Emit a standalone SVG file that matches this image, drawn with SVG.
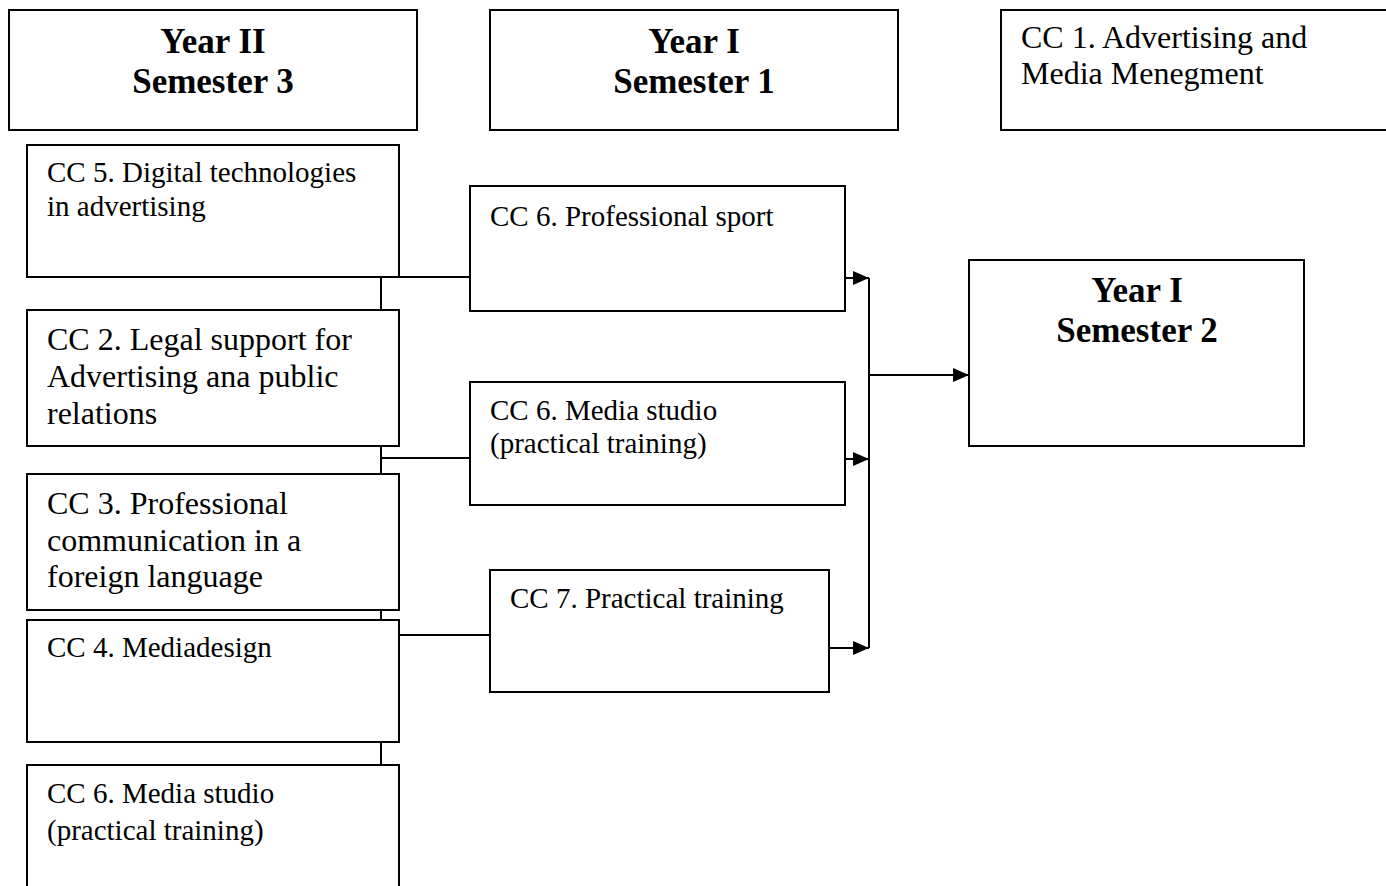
<svg xmlns="http://www.w3.org/2000/svg" width="1386" height="886" viewBox="0 0 1386 886">
<style>
.box{fill:#fff;stroke:#000;stroke-width:2}
.t{font-family:"Liberation Serif",serif;font-size:29px;fill:#000}
.tl{font-family:"Liberation Serif",serif;font-size:32px;fill:#000}
.h{font-family:"Liberation Serif",serif;font-size:35px;font-weight:bold;fill:#000;text-anchor:middle}
.c{fill:none;stroke:#000;stroke-width:2}
</style>
<defs>
<marker id="ah" markerWidth="16" markerHeight="14" refX="16" refY="7" orient="auto" markerUnits="userSpaceOnUse">
<path d="M0,0 L16,7 L0,14 Z" fill="#000"/>
</marker>
</defs>
<rect width="1386" height="886" fill="#fff"/>
<g id="connectors">
<path class="c" d="M399,277 H470"/>
<path class="c" d="M381,277 V310"/>
<path class="c" d="M381,446 V474"/>
<path class="c" d="M381,458 H470"/>
<path class="c" d="M381,610 V620"/>
<path class="c" d="M399,635 H490"/>
<path class="c" d="M381,742 V765"/>
<path class="c" d="M869,278 V648"/>
<path class="c" d="M845,278 H869" marker-end="url(#ah)"/>
<path class="c" d="M845,459 H869" marker-end="url(#ah)"/>
<path class="c" d="M829,648 H869" marker-end="url(#ah)"/>
<path class="c" d="M869,375 H969" marker-end="url(#ah)"/>
</g>
<g id="y2s3"><rect class="box" x="9" y="10" width="408" height="120"/><text class="h" x="213" y="53">Year II</text><text class="h" x="213" y="93">Semester 3</text></g>
<g id="y1s1"><rect class="box" x="490" y="10" width="408" height="120"/><text class="h" x="694" y="53">Year I</text><text class="h" x="694" y="93">Semester 1</text></g>
<g id="cc1"><rect class="box" x="1001" y="10" width="390" height="120"/><text class="tl" x="1021" y="48">CC 1. Advertising and</text><text class="tl" x="1021" y="84">Media Menegment</text></g>
<g id="cc5"><rect class="box" x="27" y="145" width="372" height="132"/><text class="t" x="47" y="182">CC 5. Digital technologies</text><text class="t" x="47" y="216">in advertising</text></g>
<g id="cc2"><rect class="box" x="27" y="310" width="372" height="136"/><text class="tl" x="47" y="350">CC 2. Legal support for</text><text class="tl" x="47" y="387">Advertising ana public</text><text class="tl" x="47" y="424">relations</text></g>
<g id="cc3"><rect class="box" x="27" y="474" width="372" height="136"/><text class="tl" x="47" y="514">CC 3. Professional</text><text class="tl" x="47" y="551">communication in a</text><text class="tl" x="47" y="587">foreign language</text></g>
<g id="cc4"><rect class="box" x="27" y="620" width="372" height="122"/><text class="t" x="47" y="657">CC 4. Mediadesign</text></g>
<g id="cc6left"><rect class="box" x="27" y="765" width="372" height="130"/><text class="t" x="47" y="803">CC 6. Media studio</text><text class="t" x="47" y="840">(practical training)</text></g>
<g id="cc6sport"><rect class="box" x="470" y="186" width="375" height="125"/><text class="t" x="490" y="226">CC 6. Professional sport</text></g>
<g id="cc6media"><rect class="box" x="470" y="382" width="375" height="123"/><text class="t" x="490" y="420">CC 6. Media studio</text><text class="t" x="490" y="453">(practical training)</text></g>
<g id="cc7"><rect class="box" x="490" y="570" width="339" height="122"/><text class="t" x="510" y="608">CC 7. Practical training</text></g>
<g id="y1s2"><rect class="box" x="969" y="260" width="335" height="186"/><text class="h" x="1137" y="302">Year I</text><text class="h" x="1137" y="342">Semester 2</text></g>
</svg>
